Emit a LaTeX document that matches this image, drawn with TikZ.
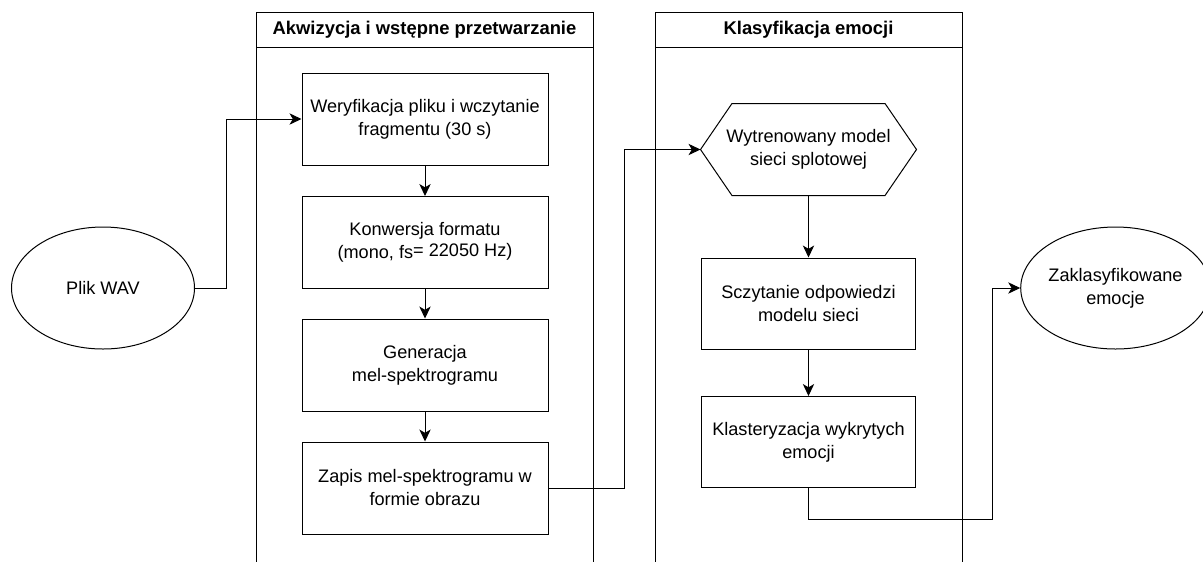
\documentclass[tikz,border=0pt]{standalone}
\usepackage{fontspec}
\setmainfont{Liberation Sans}
\usetikzlibrary{shapes.geometric,arrows.meta}
\begin{document}
\begin{tikzpicture}[x=0.75pt,y=-0.75pt,
  every path/.style={line width=0.75pt},
  txt/.style={font=\fontsize{13.6}{17.25}\selectfont, align=center},
  lanehead/.style={draw, line width=0.75pt, inner sep=0pt, minimum height=26.25pt,
                   font=\bfseries\fontsize{13.8}{16}\selectfont},
  boxA/.style={txt, draw, line width=0.75pt, inner sep=0pt, minimum width=184.5pt, minimum height=69pt},
  boxB/.style={txt, draw, line width=0.75pt, inner sep=0pt, minimum width=160.5pt, minimum height=68.25pt},
  ovalnode/.style={txt, draw, ellipse, line width=0.75pt, inner sep=0pt, minimum width=137.25pt, minimum height=91.5pt},
  hexnode/.style={txt, inner sep=0pt, minimum width=161.25pt, minimum height=68.25pt},
  conn/.style={draw, line width=0.75pt, -{Stealth[length=9pt,width=8.5pt,inset=2.5pt]}},
  plain/.style={draw, line width=0.75pt}
]
\useasboundingbox (0,0) rectangle (1203,562);

% swimlanes
\node[lanehead, minimum width=252.75pt] (h1) at (424.5,29.5) {Akwizycja i wstępne przetwarzanie};
\node[lanehead, minimum width=230.25pt] (h2) at (808.5,29.5) {Klasyfikacja emocji};
\draw (256,47) -- (256,562);
\draw (593,47) -- (593,562);
\draw (655,47) -- (655,562);
\draw (962,47) -- (962,562);

% terminals
\node[ovalnode] (wav) at (103,288) {Plik WAV};
\node[ovalnode] (out) at (1115.5,288) {Zaklasyfikowane\\emocje};

% lane 1
\node[boxA] (b1) at (425,119) {Weryfikacja pliku i wczytanie\\fragmentu (30 s)};
\node[boxA] (b2) at (425,242.5) {Konwersja formatu\\(mono, fs\raisebox{1.5pt}{= 22050 Hz)}};
\node[boxA] (b3) at (425,365) {Generacja\\mel-spektrogramu};
\node[boxA] (b4) at (425,488) {Zapis mel-spektrogramu w\\formie obrazu};

% lane 2
\node[hexnode] (hex) at (808.5,149.5) {Wytrenowany model\\sieci splotowej};
\draw (hex.west) -- ([xshift=23.6pt]hex.north west) -- ([xshift=-23.6pt]hex.north east)
      -- (hex.east) -- ([xshift=-23.6pt]hex.south east) -- ([xshift=23.6pt]hex.south west) -- cycle;
\node[boxB] (s1) at (808.5,303.5) {Sczytanie odpowiedzi\\modelu sieci};
\node[boxB] (k1) at (808.5,442) {Klasteryzacja wykrytych\\emocji};

% connectors
\coordinate (cA) at (226,288);
\coordinate (cB) at (624,488);
\coordinate (cC) at (992,519);
\draw[conn] (wav.east) -- (cA) |- (b1.west);
\draw[conn] (b1.south) -- (b2.north);
\draw[conn] (b2.south) -- (b3.north);
\draw[conn] (b3.south) -- (b4.north);
\draw[conn] (b4.east) -- (cB) |- (hex.west);
\draw[conn] (hex.south) -- (s1.north);
\draw[conn] (s1.south) -- (k1.north);
\draw[conn] (k1.south) |- (cC) |- (out.west);
\end{tikzpicture}
\end{document}
